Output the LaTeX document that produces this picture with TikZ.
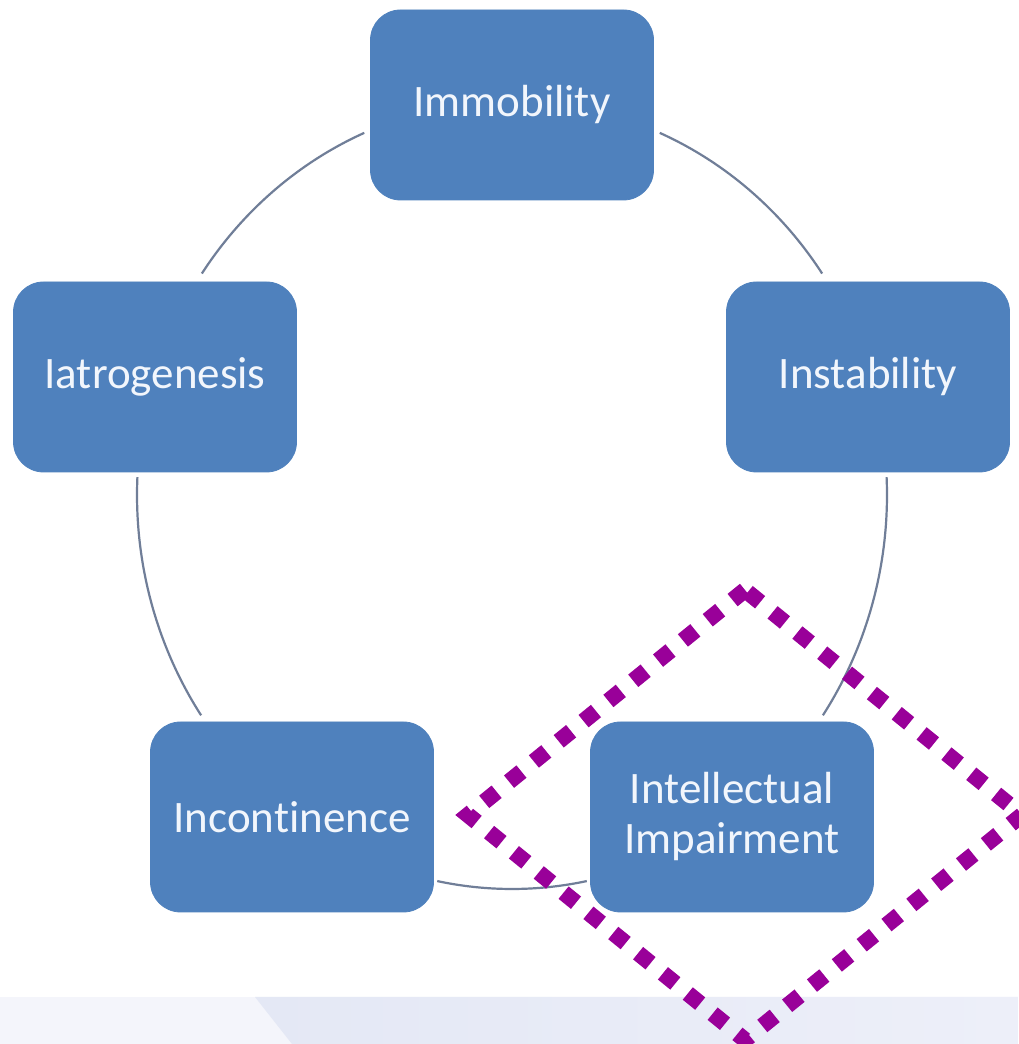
\documentclass[tikz,border=0pt]{standalone}
\usepackage{fontspec}
\setmainfont{Carlito}[Ligatures=NoCommon]
\usetikzlibrary{calc}
\definecolor{boxblue}{RGB}{79,129,189}
\definecolor{boxtext}{RGB}{242,246,252}
\definecolor{ringline}{RGB}{112,126,152}
\definecolor{markpurple}{RGB}{153,0,153}
\definecolor{bandlight}{RGB}{244,245,251}
\definecolor{bandleft}{RGB}{228,232,245}
\definecolor{bandright}{RGB}{237,239,249}
\tikzset{
  stage/.style={rectangle, rounded corners=15pt, fill=boxblue, draw=boxblue,
    minimum width=141.5pt, minimum height=95pt, inner sep=0pt,
    text=boxtext, align=center, font=\fontsize{22.5}{25}\selectfont},
  ring/.style={draw=ringline, line width=1.1pt},
  ringarc/.style={x radius=187.5pt, y radius=197pt},
  focus/.style={draw=markpurple, line width=8pt, dash pattern=on 8pt off 8pt, line join=miter}
}
\begin{document}
\begin{tikzpicture}[x=0.5pt, y=0.5pt]
  \useasboundingbox (0,0) rectangle (1018,1044);
  \fill[white] (0,0) rectangle (1018,1044);

  % pale footer band
  \fill[bandlight] (0,0) rectangle (1018,47);
  \shade[left color=bandleft, right color=bandright]
    (255,47) -- (1018,47) -- (1018,0) -- (292,0) -- cycle;

  % centre of the elliptical cycle
  \coordinate (ec) at (512,549);

  % cycle stages
  \node[stage] (immob)  at (512,939) {Immobility};
  \node[stage] (instab) at (868,667) {Instability};
  \node[stage] (intel)  at (732,227) {Intellectual\\Impairment};
  \node[stage] (incont) at (292,227) {Incontinence};
  \node[stage] (iatro)  at (155,667) {Iatrogenesis};

  % arc end points on the ellipse
  \coordinate (a1) at ($(ec)+(66.8:187.5pt and 197pt)$);
  \coordinate (a2) at ($(ec)+(2.6:187.5pt and 197pt)$);
  \coordinate (a3) at ($(ec)+(-78.5:187.5pt and 197pt)$);
  \coordinate (a4) at ($(ec)+(-146:187.5pt and 197pt)$);
  \coordinate (a5) at ($(ec)+(145.8:187.5pt and 197pt)$);

  % connecting arcs between neighbouring stages
  \draw[ring] (a1) arc[ringarc, start angle=66.8, end angle=34.2];
  \draw[ring] (a2) arc[ringarc, start angle=2.6, end angle=-34];
  \draw[ring] (a3) arc[ringarc, start angle=-78.5, end angle=-101.5];
  \draw[ring] (a4) arc[ringarc, start angle=-146, end angle=-182.6];
  \draw[ring] (a5) arc[ringarc, start angle=145.8, end angle=113.2];

  % dotted highlight around one stage
  \coordinate (dt) at (745,454);
  \coordinate (dl) at (468,229);
  \coordinate (db) at (745,4);
  \coordinate (dr) at (1022,229);
  \draw[focus] (dt) -- (dl) -- (db) -- (dr) -- cycle;
\end{tikzpicture}
\end{document}
